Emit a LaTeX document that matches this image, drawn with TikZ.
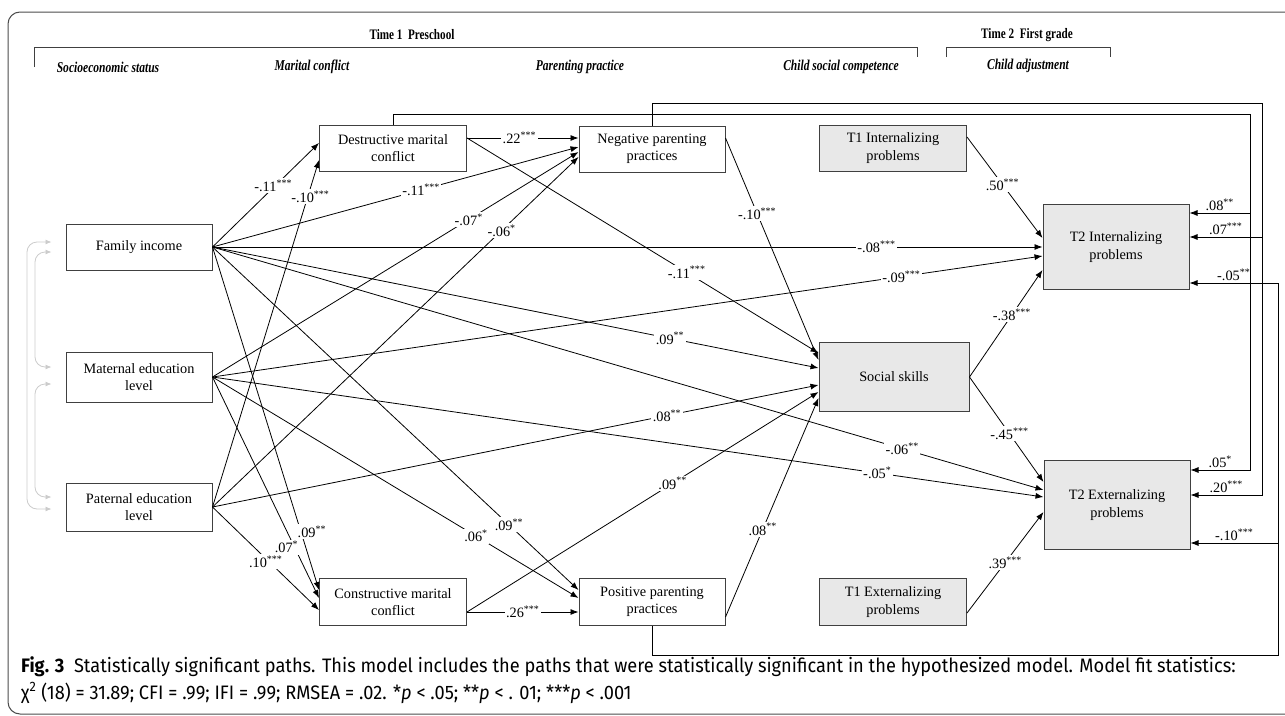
\documentclass[tikz,border=0pt]{standalone}
\usepackage{fontspec}
\setmainfont{Liberation Serif}
\newfontfamily\headfont[FakeStretch=0.77]{Liberation Serif}
\newfontfamily\capfont[FakeStretch=0.935]{Fira Sans}
\usetikzlibrary{arrows.meta}
\newcommand\sig[1]{\textsuperscript{#1}}

\begin{document}
\begin{tikzpicture}[x=1pt, y=-1pt, >={Latex[length=8pt,width=6pt]},
  box/.style={draw=black!75, line width=1pt, fill=white, minimum width=146pt,
    minimum height=46pt, align=center, inner sep=2pt,
    font=\fontsize{14.3}{17.5}\selectfont},
  gbox/.style={box, fill=black!9},
  lnk/.style={->, line width=0.8pt},
  lbl/.style={fill=white, inner sep=1.5pt, font=\fontsize{14.3}{17}\selectfont},
  rlbl/.style={above, inner sep=2pt, font=\fontsize{14.3}{17}\selectfont},
  head/.style={font=\headfont\fontsize{15}{17}\selectfont\bfseries\itshape},
  time/.style={font=\headfont\fontsize{14.5}{17}\selectfont\bfseries},
  corr/.style={{Latex[length=6pt,width=5pt]}-{Latex[length=6pt,width=5pt]},
    draw=black!20, line width=0.8pt, rounded corners=10pt}]
  \useasboundingbox (0,0) rectangle (1285,715);
  \draw[black!70, line width=1pt, rounded corners=12pt] (8,12) rectangle (1300,714);

  % time brackets and column heads
  \node[time] (tone) at (412,35) {Time 1\ \ Preschool};
  \node[time] (ttwo) at (1027,35) {Time 2\ \ First grade};
  \draw[black!75, line width=0.8pt] (34,67) -- (34,47) -- (917,47) -- (917,57);
  \draw[black!75, line width=0.8pt] (946,57) -- (946,47) -- (1110,47) -- (1110,57);
  \node[head] (hses) at (108,67) {Socioeconomic status};
  \node[head] (hmar) at (312,67) {Marital conflict};
  \node[head] (hpar) at (580,67) {Parenting practice};
  \node[head] (hsoc) at (841,67) {Child social competence};
  \node[head] (hadj) at (1028,66) {Child adjustment};

  % boxes
  \node[box] (inc) at (139,247) {Family income};
  \node[box, minimum height=50pt] (mat) at (139,377) {Maternal education\\level};
  \node[box, minimum height=48pt] (pat) at (139,507) {Paternal education\\level};
  \node[box, minimum width=147pt] (dest) at (393,148) {Destructive marital\\conflict};
  \node[box] (neg) at (652,149) {Negative parenting\\practices};
  \node[box, minimum width=147pt, minimum height=47pt] (cons) at (393,602) {Constructive marital\\conflict};
  \node[box, minimum height=47pt] (pos) at (652,602) {Positive parenting\\practices};
  \node[gbox, minimum width=147pt] (tii) at (893,148) {T1 Internalizing\\problems};
  \node[gbox, minimum width=150pt, minimum height=69pt] (soc) at (894,377) {Social skills};
  \node[gbox, minimum width=147pt, minimum height=47pt] (tie) at (893,602) {T1 Externalizing\\problems};
  \node[gbox, minimum height=85pt] (tti) at (1116,247) {T2 Internalizing\\problems};
  \node[gbox, minimum height=89pt] (tte) at (1117,505) {T2 Externalizing\\problems};

  % correlations among SES indicators
  \draw[corr] ([shift={(-14pt,5pt)}]inc.west) -| (27,375) |- ([shift={(-14pt,-2pt)}]pat.west);
  \draw[corr] ([shift={(-14pt,-5pt)}]inc.west) -| (35,310) |- ([shift={(-14pt,10pt)}]mat.west);
  \draw[corr] ([shift={(-14pt,-7pt)}]mat.west) -| (35,440) |- ([shift={(-14pt,10pt)}]pat.west);

  % paths from SES
  \draw[lnk] (inc.east) -- ([yshift=5pt]dest.west) node[lbl, pos=0.57, yshift=2pt] {-.11\sig{***}};
  \draw[lnk] (pat.east) -- ([yshift=-12pt]dest.west) node[lbl, pos=0.9, xshift=2pt, yshift=-2pt] {-.10\sig{***}};
  \draw[lnk] (inc.east) -- ([yshift=2pt]neg.west) node[lbl, pos=0.57] {-.11\sig{***}};
  \draw[lnk] (mat.east) -- ([yshift=-3pt]neg.west) node[lbl, pos=0.7] {-.07\sig{*}};
  \draw[lnk] (pat.east) -- ([yshift=-8pt]neg.west) node[lbl, pos=0.79] {-.06\sig{*}};
  \draw[lnk] (inc.east) -- (tti.west) node[lbl, pos=0.8] {-.08\sig{***}};
  \draw[lnk] (mat.east) -- ([yshift=-9pt]tti.west) node[lbl, pos=0.83] {-.09\sig{***}};
  \draw[lnk] (inc.east) -- ([yshift=9pt]soc.west) node[lbl, pos=0.755] {.09\sig{**}};
  \draw[lnk] (pat.east) -- ([yshift=-8pt]soc.west) node[lbl, pos=0.75] {.08\sig{**}};
  \draw[lnk] (inc.east) -- ([yshift=15pt]tte.west) node[lbl, pos=0.83] {-.06\sig{**}};
  \draw[lnk] (mat.east) -- ([yshift=8pt]tte.west) node[lbl, pos=0.8] {-.05\sig{*}};
  \draw[lnk] (inc.east) -- ([yshift=12pt]pos.west) node[lbl, pos=0.81] {.09\sig{**}};
  \draw[lnk] (mat.east) -- ([yshift=4pt]pos.west) node[lbl, pos=0.72] {.06\sig{*}};
  \draw[lnk] (inc.east) -- ([yshift=12pt]cons.west) node[lbl, pos=0.83, xshift=11pt] {.09\sig{**}};
  \draw[lnk] (mat.east) -- ([yshift=4pt]cons.west) node[lbl, pos=0.77, xshift=-8pt] {.07\sig{*}};
  \draw[lnk] (pat.east) -- ([yshift=-8pt]cons.west) node[lbl, pos=0.5, yshift=-3pt] {.10\sig{***}};

  % marital conflict and parenting
  \draw[lnk] ([yshift=10pt]dest.east) -- ([yshift=11pt]neg.west) node[lbl, pos=0.47] {.22\sig{***}};
  \draw[lnk] ([yshift=10pt]dest.east) -- ([yshift=24pt]soc.west) node[lbl, pos=0.625] {-.11\sig{***}};
  \draw[lnk] ([yshift=11pt]neg.east) -- ([yshift=17pt]soc.west) node[lbl, pos=0.34] {-.10\sig{***}};
  \draw[lnk] ([yshift=-10pt]cons.east) -- ([yshift=-10pt]pos.west) node[lbl, pos=0.5] {.26\sig{***}};
  \draw[lnk] ([yshift=-10pt]cons.east) -- ([yshift=-15pt]soc.west) node[lbl, pos=0.585] {.09\sig{**}};
  \draw[lnk] ([yshift=-15pt]pos.east) -- ([yshift=-21pt]soc.west) node[lbl, pos=0.4] {.08\sig{**}};

  % child outcomes
  \draw[lnk] ([yshift=11pt]tii.east) -- ([yshift=9pt]tti.west) node[lbl, pos=0.47] {.50\sig{***}};
  \draw[lnk] (soc.east) -- ([yshift=-23pt]tti.west) node[lbl, pos=0.58] {-.38\sig{***}};
  \draw[lnk] (soc.east) -- ([yshift=23pt]tte.west) node[lbl, pos=0.54] {-.45\sig{***}};
  \draw[lnk] ([yshift=-11pt]tie.east) -- ([yshift=-7pt]tte.west) node[lbl, pos=0.5] {.39\sig{***}};

  % long paths round the right side
  \coordinate (dr) at (1250,114);
  \coordinate (nr) at (1262,103);
  \coordinate (pr) at (1278,655);
  \coordinate (di) at ([yshift=34pt]tti.east);
  \coordinate (ni) at ([yshift=10pt]tti.east);
  \coordinate (pe) at ([yshift=-38pt]tte.east);
  \draw[lnk] (dest.north) |- (dr) |- ([yshift=35pt]tte.east) node[rlbl, pos=0.75] {.05\sig{*}};
  \draw[lnk] (dr |- di) -- (di) node[rlbl, midway] {.08\sig{**}};
  \draw[lnk] (neg.north) |- (nr) |- ([yshift=10pt]tte.east) node[rlbl, pos=0.75] {.20\sig{***}};
  \draw[lnk] (nr |- ni) -- (ni) node[rlbl, midway] {.07\sig{***}};
  \draw[lnk] (pos.south) |- (pr) |- ([yshift=-36pt]tti.east) node[rlbl, pos=0.75] {-.05\sig{**}};
  \draw[lnk] (pr |- pe) -- (pe) node[rlbl, midway] {-.10\sig{***}};

  % caption
  \node[anchor=base west, align=left, inner sep=0pt, font=\capfont\fontsize{19.5}{27}\selectfont] (cap) at (21,699)
    {\textbf{Fig. 3}\ \ Statistically significant paths. This model includes the paths that were statistically significant in the hypothesized model. Model fit statistics:\\
     χ\textsuperscript{2} (18) = 31.89; CFI = .99; IFI = .99; RMSEA = .02. *\textit{p} < .05; **\textit{p} < . 01; ***\textit{p} < .001};
\end{tikzpicture}
\end{document}
